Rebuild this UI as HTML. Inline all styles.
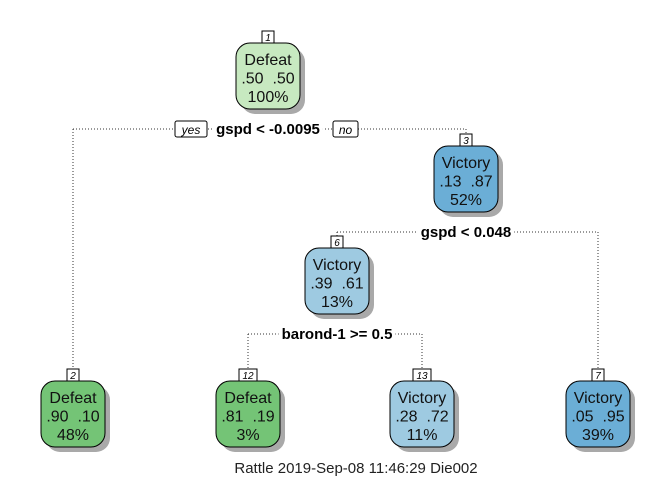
<!DOCTYPE html>
<html><head><meta charset="utf-8"><style>
body{margin:0;background:#fff}
svg{display:block;font-family:"Liberation Sans",Arial,sans-serif}
text{white-space:pre}
</style></head><body>
<svg id="c" width="672" height="480" viewBox="0 0 672 480"></svg>
<script>
const nodeIds=[1,3,6,2,12,13,7];
const nodeClass=["Defeat","Victory","Victory","Defeat","Defeat","Victory","Victory"];
const probDefeat=[".50",".13",".39",".90",".81",".28",".05"];
const probVictory=[".50",".87",".61",".10",".19",".72",".95"];
const pct=["100%","52%","13%","48%","3%","11%","39%"];
const fills=["#c7e9c0","#6baed6","#9ecae1","#74c476","#74c476","#9ecae1","#6baed6"];
const splitLabels=["gspd < -0.0095","gspd < 0.048","barond-1 >= 0.5"];
// layout
const cx=[268,466,337,73,248,422,598];
const top_=[43,146,248,381,381,381,381];
const W=64,H=66;
const ns="http://www.w3.org/2000/svg";
const svg=document.getElementById('c');
function mk(t,a,p){const e=document.createElementNS(ns,t);for(const k in a)e.setAttribute(k,a[k]);(p||svg).appendChild(e);return e;}
function line(x1,y1,x2,y2){const l=mk('line',{x1,y1,x2,y2,stroke:'#333','stroke-width':1,'stroke-dasharray':'1,2'});

}
const splits=[[0,3,1,129],[1,2,6,232],[2,4,5,334]];
splits.forEach((s,i)=>{
  const [p,l,r,y]=s;
  line(cx[l],y,cx[r],y);
  line(cx[l],y,cx[l],top_[l]-12);
  line(cx[r],y,cx[r],top_[r]-12);
  const t=mk('text',{x:cx[p],y:y+5,'text-anchor':'middle','font-size':15,'font-weight':'bold',fill:'#000'});
  t.textContent=splitLabels[i];
  
  
  const bb=t.getBBox();
  const bg=mk('rect',{x:bb.x-3,y:y-9,width:bb.width+6,height:18,fill:'#fff'});
  svg.insertBefore(bg,t);
});
[["yes",175,32],["no",333,25]].forEach(b=>{
  const r=mk('rect',{x:b[1],y:121,width:b[2],height:16,rx:2,fill:'#fff',stroke:'#000','stroke-width':1});
  
  
  const t=mk('text',{x:b[1]+b[2]/2,y:134,'text-anchor':'middle','font-size':12,'font-style':'italic'});
  t.textContent=b[0];
});
nodeIds.forEach((id,i)=>{
  const g=mk('g',{});
  
  
  const x=cx[i]-W/2,y=top_[i];
  mk('rect',{x:x+5,y:y+5,width:W,height:H,rx:14,fill:'#a9a9a9'},g);
  mk('rect',{x:x,y:y,width:W,height:H,rx:14,fill:fills[i],stroke:'#000','stroke-width':1},g);
  const nw=String(id).length>1?18:12;
  mk('rect',{x:cx[i]-nw/2,y:y-12,width:nw,height:12,fill:'#fff',stroke:'#000','stroke-width':1},g);
  const nt=mk('text',{x:cx[i],y:y-2,'text-anchor':'middle','font-size':10,'font-style':'italic'},g);nt.textContent=id;
  const lines=[nodeClass[i],probDefeat[i]+"  "+probVictory[i],pct[i]];
  lines.forEach((s,k)=>{const t=mk('text',{x:cx[i],y:y+22+k*18.5,'text-anchor':'middle','font-size':16,fill:'#111'},g);t.textContent=s;});
});
const f=mk('text',{x:356,y:473,'text-anchor':'middle','font-size':15,fill:'#222'});
f.textContent="Rattle 2019-Sep-08 11:46:29 Die002";


</script>
</body></html>
